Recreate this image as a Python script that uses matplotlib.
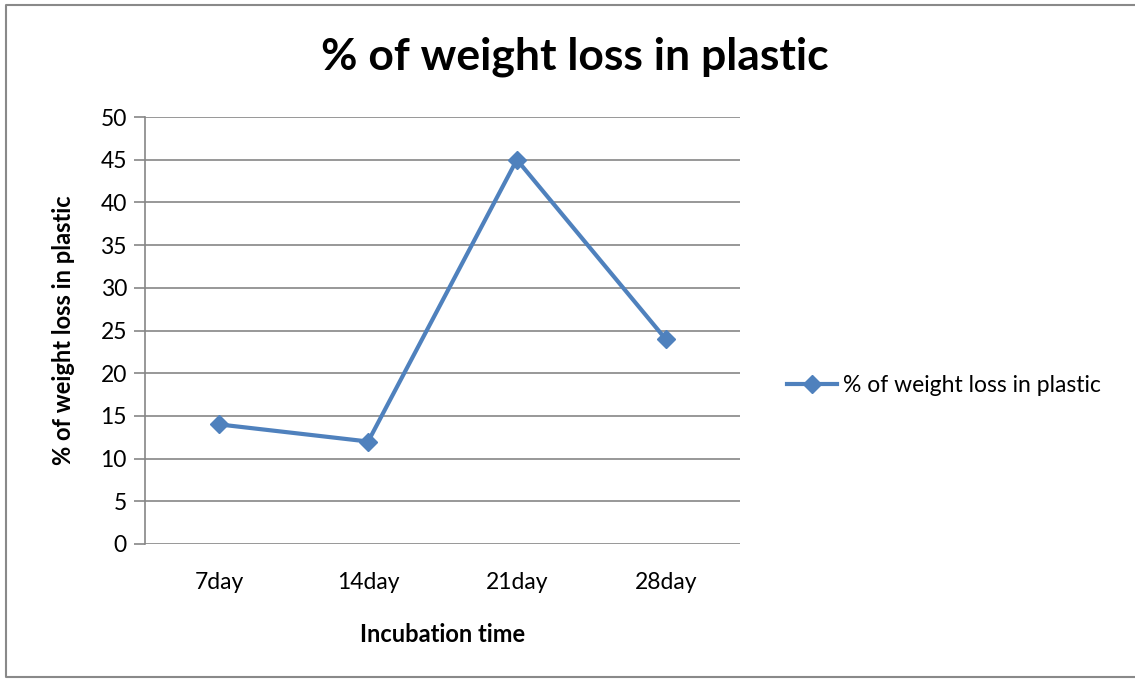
import matplotlib.pyplot as plt
from matplotlib.lines import Line2D

days = ["7day", "14day", "21day", "28day"]
loss = [14, 12, 45, 24]
yticks = [0, 5, 10, 15, 20, 25, 30, 35, 40, 45, 50]

plt.rcParams['font.family'] = ['Lato', 'DejaVu Sans']

fig = plt.figure(figsize=(11.35, 6.79), dpi=100)
W, H = 1135, 679
ax = fig.add_axes([145 / W, 1 - 544 / H, (740 - 145) / W, (544 - 117) / H])

x = range(len(days))
line, = ax.plot(x, loss, color="#4F81BD", lw=3, marker="D", ms=9,
                label="% of weight loss in plastic", zorder=3)

ax.set_xlim(-0.5, 3.5)
ax.set_ylim(0, 50)
ax.set_yticks(yticks)
ax.set_xticks(list(x))
ax.set_xticklabels(days)
ax.grid(axis="y", color="#868686", lw=1.2)
ax.set_axisbelow(True)
for s in ["top", "right", "bottom"]:
    ax.spines[s].set_visible(False)
ax.spines["left"].set_color("#868686")
ax.spines["left"].set_linewidth(1.2)
ax.tick_params(axis="y", length=8, width=1.2, color="#868686", labelsize=16.5, pad=5)
ax.tick_params(axis="x", length=0, labelsize=16.5, pad=20)

ax.set_xlabel("Incubation time", fontsize=17, fontweight="bold", labelpad=22)
ax.set_ylabel("% of weight loss in plastic", fontsize=17, fontweight="bold", labelpad=18)
fig.text(575 / W, 1 - 57 / H, "% of weight loss in plastic", fontsize=32,
         fontweight="bold", ha="center", va="center")

leg = fig.legend(handles=[line], loc="center left", bbox_to_anchor=(766 / W, 1 - 386 / H),
                 frameon=False, fontsize=16.5, handlelength=2.2, handletextpad=0.25)

# outer chart border (left, top, bottom only)
bx = [1.2, 6 / W, 6 / W, 1.2]
by = [1 - 5 / H, 1 - 5 / H, 2 / H, 2 / H]
fig.add_artist(Line2D(bx, by, transform=fig.transFigure, color="#898989", lw=1.5))

fig.savefig("out.png", dpi=100)
